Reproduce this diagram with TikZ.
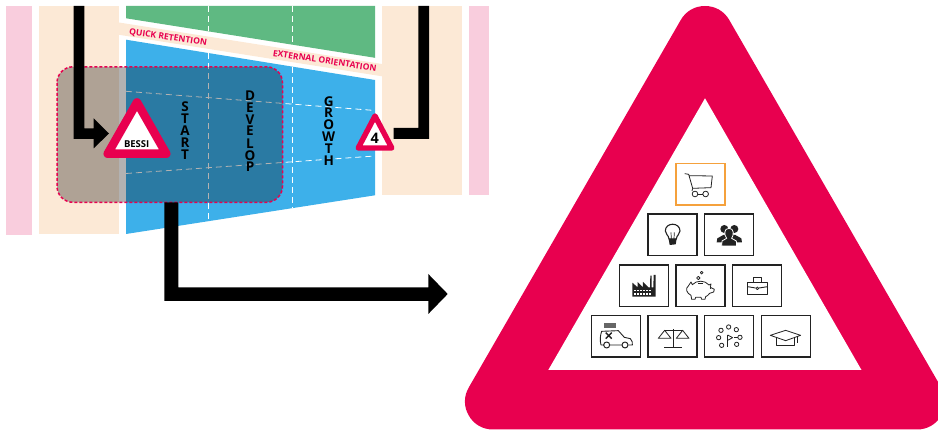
\documentclass[tikz,border=0pt]{standalone}
\usepackage{fontspec}
\setmainfont{Open Sans}
\definecolor{crim}{HTML}{E8004F}
\definecolor{pinkbar}{HTML}{F9CDDD}
\definecolor{creamb}{HTML}{FCE9D6}
\definecolor{greenb}{HTML}{5FB982}
\definecolor{blueb}{HTML}{3DB0EA}
\definecolor{orangeb}{HTML}{F5A13C}
\definecolor{ink}{HTML}{222222}
\tikzset{
  icobox/.style={draw=ink,line width=1.5pt,fill=white,minimum width=49pt,minimum height=41.5pt,inner sep=0pt,outer sep=0pt},
  carbox/.style={icobox,draw=orangeb},
  wdash/.style={draw=white,line width=.8pt,dash pattern=on 6pt off 4pt},
  ico/.style={draw=ink,line width=.8pt,line join=round,fill=none},
  stack/.style={font=\bfseries\fontsize{13.5}{13.5}\selectfont,inner sep=0pt,text=black},
  lab/.style={font=\bfseries\fontsize{8.6}{9}\selectfont,text=crim,inner sep=0pt},
  zoomA/.style={shift={(610,155)},x=.3333pt,y=-.3333pt},
  zoomB/.style={shift={(585,260)},x=.3333pt,y=-.3333pt},
}
\begin{document}
\begin{tikzpicture}[x=1pt,y=-1pt]
\useasboundingbox (0,0) rectangle (938,430);
% side bars
\fill[pinkbar] (6,6) rectangle (32,235);
\fill[pinkbar] (469,6) rectangle (489,195);
\fill[creamb] (39,6) rectangle (119,234);
\fill[creamb] (382,6) rectangle (462,195);
% central funnel
\fill[greenb] (126,6) -- (375,6) -- (375,57.8) -- (126,18.3) -- cycle;
\fill[creamb] (119,22.5) -- (382,64) -- (382,76.3) -- (119,34.8) -- cycle;
\fill[blueb] (126,39.7) -- (375,80) -- (375,195.3) -- (126,234) -- cycle;
% dashes
\draw[wdash] (208.5,6) -- (208.5,31.5);
\draw[wdash] (292.5,6) -- (292.5,45);
\draw[wdash] (208.5,53.5) -- (208.5,221);
\draw[wdash] (292.5,67) -- (292.5,208);
\draw[wdash] (126,91.3) -- (375,110.5);
\draw[wdash] (126,173.5) -- (375,156);
% labels
\node[lab,rotate=-8.6] (quick) at (168,37.6) {QUICK RETENTION};
\node[lab,rotate=-8.6] (ext) at (324.7,60.8) {EXTERNAL ORIENTATION};
% overlay
\path[fill=black,fill opacity=.3,draw=none,rounded corners=16pt] (57,66.8) rectangle (282.5,202.3);
\draw[crim,line width=1.5pt,dash pattern=on 3pt off 2pt,rounded corners=16pt] (57,66.8) rectangle (282.5,202.3);
% black arrows
\fill[black] (73.7,6) -- (84.3,6) -- (84.3,128.3) -- (93.7,128.3) -- (93.7,118.3) -- (109,133.5) -- (93.7,148.3) -- (93.7,139) -- (73.7,139) -- cycle;
\fill[black] (418.3,6) -- (429,6) -- (429,138.8) -- (393.5,138.8) -- (393.5,128) -- (418.3,128) -- cycle;
\fill[black] (164.3,202.3) -- (178.3,202.3) -- (178.3,287.3) -- (428.3,287.3) -- (428.3,274) -- (447.7,294) -- (428.3,314) -- (428.3,301) -- (164.3,301) -- cycle;
% warning triangles
\draw[crim,fill=white,line width=8.5pt,line join=round] (137,102.4) -- (107.7,153.75) -- (166.3,153.75) -- cycle;
\draw[crim,fill=white,line width=5.4pt,line join=round] (375,116) -- (358.2,148) -- (391.8,148) -- cycle;
\node[font=\bfseries\fontsize{9.5}{9.5}\selectfont,inner sep=0pt] (bessi) at (136.7,144) {BESSI};
\node[font=\bfseries\fontsize{14.5}{14.5}\selectfont,inner sep=0pt] (four) at (374.7,138.3) {4};
% stacked words
\foreach \c/\y [count=\i] in {S/107,T/119,A/131,R/143,T/155}
  \node[stack] (st\i) at (185,\y) {\c};
\foreach \c/\y [count=\i] in {D/96,E/107.3,V/119.3,E/131,L/143.3,O/155.3,P/167}
  \node[stack] (de\i) at (250,\y) {\c};
\foreach \c/\y [count=\i] in {G/101.7,R/113,O/125,W/136.7,T/149,H/161}
  \node[stack] (gr\i) at (328.7,\y) {\c};
% big triangle
\draw[crim,fill=crim,line width=56pt,line join=round] (705,34) -- (493,401.5) -- (917,401.5) -- cycle;
\fill[white] (705,98.3) -- (548.3,370) -- (861.5,370) -- cycle;
% icon boxes
\node[carbox] (b1) at (700.5,184.5) {};
\node[icobox] (b2) at (672.3,235) {};
\node[icobox] (b3) at (729,235) {};
\node[icobox] (b4) at (644,285.7) {};
\node[icobox] (b5) at (700.5,285.7) {};
\node[icobox] (b6) at (757,285.7) {};
\node[icobox] (b7) at (616,336.5) {};
\node[icobox] (b8) at (672.3,336.5) {};
\node[icobox] (b9) at (729,336.5) {};
\node[icobox] (b10) at (786,336.5) {};
% cart
\begin{scope}[zoomA]
\draw[ico] (224,56) -- (236,58) -- (248,100) -- (303,98) -- (307,63) -- (238,62);
\draw[ico] (248,100) -- (246,108);
\draw[ico] (255,117) circle[radius=8.5];
\draw[ico] (287,117) circle[radius=8.5];
\draw[ico] (263.5,117) -- (278.5,117);
% bulb
\draw[ink,line width=1.1pt,line join=round] (177,252) .. controls (176,240) and (166,238) .. (166,228) .. controls (166,201) and (210,201) .. (210,228) .. controls (210,238) and (200,240) .. (199,252) -- cycle;
\draw[ink,line width=.7pt] (184,252) -- (183,232) (192,252) -- (193,232);
\fill[ink] (176,252) -- (200,252) -- (197,268) -- (179,270) -- cycle;
% people
\fill[ink] (343,222) circle[radius=12];
\fill[ink] (373,222) circle[radius=12];
\fill[ink] (320,262) -- (322,250) -- (340,240) -- (376,240) -- (394,250) -- (396,262) -- cycle;
\draw[white,fill=ink,line width=.8pt] (335,273) -- (336,258) -- (350,250) .. controls (342,240) and (341,220) .. (357,220) .. controls (373,220) and (372,240) .. (365,250) -- (379,258) -- (380,273) -- cycle;
\end{scope}
\begin{scope}[zoomB]
% factory
\fill[ink] (142,110) -- (142,68) -- (158,82) -- (158,66) -- (174,82) -- (174,66) -- (190,82) -- (195,82) -- (196,47) -- (200,47) -- (200,82) -- (205,82) -- (206,45) -- (212,45) -- (212,110) -- cycle;
\foreach \xx in {147,156,165,174,183,192}{
  \fill[white] (\xx,89) rectangle ++(5,5);
  \fill[white] (\xx,99) rectangle ++(5,5);
}
% piggy
\draw[ico] (318,66) -- (322,74) .. controls (335,60) and (360,60) .. (372,75) -- (378,72) -- (376,82) -- (388,88) -- (386,96) -- (374,100) .. controls (370,106) and (366,108) .. (362,110) -- (360,118) -- (350,118) -- (348,112) -- (332,112) -- (330,118) -- (320,118) -- (318,106) .. controls (305,100) and (300,85) .. (310,78) -- cycle;
\draw[ico] (340,69) -- (354,69);
\draw[ico] (340,54) circle[radius=5];
\draw[ico] (350,38) circle[radius=4];
\fill[ink] (377,85) circle[radius=2];
% case
\draw[ico,line width=.9pt] (488,66) rectangle (548,103);
\draw[ico,line width=.9pt] (488,80) -- (512,84) (522,84) -- (548,80);
\draw[ico,line width=.9pt] (505,66) -- (505,53) -- (530,53) -- (530,66);
\draw[ico] (517,85) circle[radius=4];
% van
\draw[ico,line width=.9pt] (56,255) -- (48,255) .. controls (44,240) and (46,225) .. (50,214) -- (100,212) -- (118,232) -- (136,236) .. controls (142,240) and (143,250) .. (142,255) -- (130,255) (111,255) -- (74,255);
\draw[ico,line width=1pt] (65,255) circle[radius=9];
\draw[ico,line width=1pt] (120,255) circle[radius=9];
\fill[gray!80!black] (57,188) rectangle (92,205);
\draw[ink,line width=1.4pt] (62,218) -- (80,236) (80,218) -- (62,236);
% scale
\draw[ico] (238,262) -- (292,262);
\draw[ico] (265,208) -- (265,262);
\draw[ico] (238,210) -- (293,210);
\draw[ico] (220,235) -- (258,235) -- (239,211) -- cycle;
\draw[ico] (274,235) -- (312,235) -- (293,211) -- cycle;
% flag and circles
\foreach \cx/\cy in {431/201,408/211,454/209,401/233,465/232,410/256,455/253}
  \draw[ico] (\cx,\cy) circle[radius=6.5];
\draw[ico] (428,225) -- (428,262);
\draw[ico] (428,225) -- (443,233) -- (428,241);
\draw[ico] (448,231) -- (458,231);
% cap
\draw[ico] (556,226) -- (602,211) -- (647,226) -- (602,242) -- cycle;
\draw[ico] (575,233) -- (575,257) -- (628,257) -- (628,235);
\draw[ico] (637,229) -- (637,250);
\end{scope}
\end{tikzpicture}
\end{document}
